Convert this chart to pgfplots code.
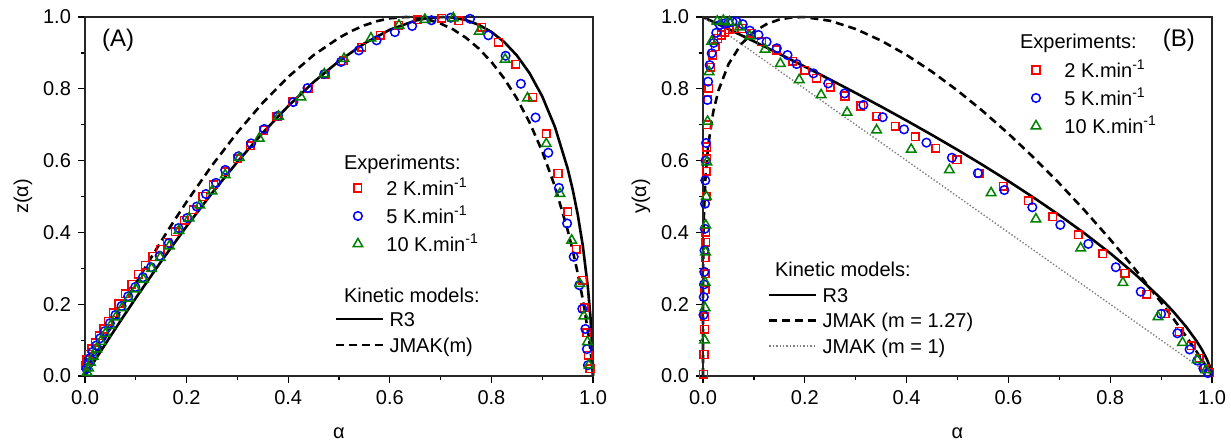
\documentclass[border=0pt]{standalone}
\usepackage{fontspec}
\setmainfont{Liberation Sans}
\usepackage{pgfplots}
\pgfplotsset{compat=1.18}
\definecolor{mgreen}{RGB}{0,128,0}
\definecolor{mgray}{RGB}{128,128,128}
\pgfplotsset{
  limg/.style={legend image code/.code={\pgfpathrectangle{\pgfpoint{0pt}{-3pt}}{\pgfpoint{23.5pt}{6pt}}\pgfusepath{discard}\draw[mark repeat=2,mark phase=2,##1] plot coordinates {(0pt,0pt) (11.75pt,0pt) (23.5pt,0pt)};}},
  base/.style={
    scale only axis, xmin=0, xmax=1, ymin=0, ymax=1, clip=false,
    xtick={0,0.2,0.4,0.6,0.8,1.0}, ytick={0,0.2,0.4,0.6,0.8,1.0},
    minor xtick={0.1,0.3,0.5,0.7,0.9}, minor ytick={0.1,0.3,0.5,0.7,0.9},
    tick align=outside, xtick pos=left, ytick pos=left,
    major tick length=3.5pt, minor tick length=2pt,
    tick style={line width=0.6pt, black},
    axis line style={line width=0.7pt, black!85},
    /pgf/number format/assume math mode=true,
    ticklabel style={/pgf/number format/fixed, /pgf/number format/precision=1, /pgf/number format/fixed zerofill},
    xlabel style={at={(axis description cs:0.5,-0.159)}, anchor=center},
    ylabel style={at={(axis description cs:-0.122,0.5)}, anchor=center},
    legend cell align=left, limg,
  },
  leg/.style 2 args={legend style={at={#1}, anchor=north west, draw=none, fill=none, inner sep=0pt, outer sep=0pt,
    row sep=#2, column sep=2.5pt, nodes={inner sep=0pt, text height=8.85pt, text depth=1.65pt}}},
  r3/.style={black, line width=1.3pt, no marks, limg},
  jm/.style={black, line width=1.3pt, dash pattern=on 4pt off 2.5pt, no marks, limg},
  jm1/.style={mgray, line width=0.7pt, dash pattern=on 0.7pt off 1pt, no marks, limg},
  sq/.style={only marks, red, mark=square, mark size=1.9pt, mark options={line width=0.75pt}, limg},
  ci/.style={only marks, blue, mark=o, mark size=2.15pt, mark options={line width=0.75pt}, limg},
  tr/.style={only marks, mgreen, mark=triangle, mark size=2.75pt, mark options={line width=0.75pt}, limg},
}
\begin{document}
\begin{tikzpicture}
\useasboundingbox (-42.5pt,-35pt) rectangle (573pt,188pt);
% ---------------- Panel A: model lines ----------------
\begin{axis}[base, width=254pt, height=179.5pt, hide axis, leg={(0.492,0.188)}{2.5pt}]
\addplot[r3] coordinates {(0,0) (0.01,0.0224) (0.025,0.0558) (0.05,0.1106) (0.075,0.1644) (0.1,0.2172) (0.15,0.3194) (0.2,0.4170) (0.25,0.5095) (0.3,0.5965) (0.35,0.6775) (0.4,0.7518) (0.45,0.8187) (0.5,0.8773) (0.55,0.9264) (0.6,0.9645) (0.65,0.9898) (0.675,0.9970) (0.7037,1.0) (0.725,0.9982) (0.75,0.9914) (0.775,0.9783) (0.8,0.9585) (0.825,0.9306) (0.85,0.8931) (0.875,0.8438) (0.9,0.7791) (0.925,0.6940) (0.95,0.5785) (0.96,0.5195) (0.97,0.4494) (0.98,0.3624) (0.99,0.2457) (0.995,0.1636) (0.999,0.0608) (0.9999,0.0139) (1,0)};
\addlegendentry{R3}
\addplot[jm] coordinates {(0,0) (0.01,0.0271) (0.025,0.0671) (0.05,0.1325) (0.075,0.1960) (0.1,0.2578) (0.125,0.3176) (0.15,0.3755) (0.175,0.4314) (0.2,0.4852) (0.25,0.5865) (0.3,0.6787) (0.35,0.7611) (0.4,0.8331) (0.45,0.8938) (0.5,0.9421) (0.525,0.9612) (0.55,0.9768) (0.575,0.9885) (0.6,0.9963) (0.632,1.0) (0.65,0.9988) (0.675,0.9929) (0.7,0.9818) (0.725,0.9651) (0.75,0.9421) (0.775,0.9123) (0.8,0.8750) (0.825,0.8291) (0.85,0.7735) (0.875,0.7066) (0.9,0.6259) (0.925,0.5281) (0.95,0.4072) (0.96,0.3500) (0.97,0.2860) (0.98,0.2127) (0.99,0.1252) (0.995,0.0720) (0.999,0.0188) (1,0)};
\addlegendentry{JMAK(m)}
\node[anchor=base west] at (rel axis cs:0.496,0.2061) {Kinetic models:};
\end{axis}
% ---------------- Panel A: experiments and frame ----------------
\begin{axis}[base, width=254pt, height=179.5pt, xlabel={α}, ylabel={z(α)}, leg={(0.491,0.553)}{3.5pt}]
\addplot[sq] coordinates {(0.002,0.030) (0.004,0.045) (0.008,0.060) (0.013,0.076) (0.020,0.093) (0.028,0.112) (0.037,0.131) (0.046,0.152) (0.056,0.176) (0.067,0.201) (0.079,0.229) (0.092,0.256) (0.105,0.283) (0.119,0.309) (0.133,0.333) (0.148,0.353) (0.162,0.372) (0.178,0.402) (0.195,0.434) (0.213,0.463) (0.232,0.500) (0.253,0.533) (0.276,0.569) (0.300,0.605) (0.325,0.641) (0.351,0.684) (0.378,0.722) (0.408,0.764) (0.440,0.801) (0.473,0.840) (0.508,0.878) (0.545,0.916) (0.581,0.949) (0.618,0.977) (0.655,0.992) (0.702,0.996) (0.736,0.990) (0.781,0.972) (0.814,0.930) (0.848,0.868) (0.881,0.777) (0.908,0.675) (0.931,0.564) (0.950,0.457) (0.967,0.353) (0.980,0.267) (0.983,0.190) (0.988,0.120) (0.991,0.058) (0.994,0.020)};
\addlegendentry{2 K.min\textsuperscript{-1}}
\addplot[ci] coordinates {(0.003,0.020) (0.006,0.035) (0.010,0.050) (0.015,0.067) (0.022,0.085) (0.030,0.105) (0.039,0.125) (0.049,0.147) (0.060,0.170) (0.072,0.195) (0.085,0.222) (0.099,0.248) (0.114,0.275) (0.130,0.303) (0.147,0.335) (0.165,0.370) (0.184,0.412) (0.201,0.440) (0.220,0.472) (0.238,0.507) (0.258,0.538) (0.276,0.574) (0.302,0.612) (0.327,0.648) (0.353,0.688) (0.380,0.725) (0.410,0.763) (0.438,0.802) (0.471,0.841) (0.504,0.875) (0.539,0.907) (0.574,0.935) (0.610,0.958) (0.644,0.975) (0.682,0.991) (0.720,0.998) (0.758,0.995) (0.794,0.949) (0.828,0.892) (0.858,0.814) (0.887,0.720) (0.912,0.622) (0.933,0.524) (0.949,0.425) (0.962,0.332) (0.973,0.253) (0.979,0.187) (0.985,0.131) (0.988,0.075) (0.990,0.030)};
\addlegendentry{5 K.min\textsuperscript{-1}}
\addplot[tr] coordinates {(0.004,0.010) (0.007,0.022) (0.011,0.037) (0.016,0.055) (0.023,0.075) (0.031,0.096) (0.040,0.118) (0.050,0.140) (0.061,0.164) (0.073,0.190) (0.086,0.216) (0.100,0.242) (0.115,0.269) (0.131,0.299) (0.148,0.330) (0.166,0.362) (0.185,0.405) (0.205,0.440) (0.226,0.476) (0.250,0.515) (0.276,0.560) (0.304,0.608) (0.343,0.662) (0.381,0.723) (0.425,0.777) (0.471,0.841) (0.510,0.884) (0.563,0.941) (0.618,0.977) (0.669,0.993) (0.725,0.997) (0.776,0.960) (0.827,0.882) (0.871,0.774) (0.908,0.647) (0.935,0.508) (0.958,0.378) (0.974,0.257) (0.982,0.167) (0.989,0.095) (0.992,0.030)};
\addlegendentry{10 K.min\textsuperscript{-1}}
\node[anchor=base west] at (rel axis cs:0.496,0.5766) {Experiments:};
\node[anchor=west, font=\fontsize{12}{14}\selectfont] at (rel axis cs:0.0197,0.936) {(A)};
\end{axis}
% ---------------- Panel B: model lines ----------------
\begin{axis}[base, at={(309pt,0pt)}, width=254.5pt, height=179.5pt, hide axis, leg={(0.1277,0.2549)}{2.25pt}]
\addplot[r3] coordinates {(0,1) (0.05,0.9664) (0.1,0.9322) (0.15,0.8973) (0.2,0.8618) (0.25,0.8255) (0.3,0.7884) (0.35,0.7504) (0.4,0.7114) (0.45,0.6713) (0.5,0.6300) (0.55,0.5873) (0.6,0.5429) (0.65,0.4966) (0.7,0.4481) (0.75,0.3969) (0.8,0.3420) (0.85,0.2823) (0.9,0.2154) (0.925,0.1778) (0.95,0.1357) (0.97,0.0966) (0.98,0.0737) (0.99,0.0464) (0.995,0.0292) (0.999,0.0100) (1,0)};
\addlegendentry{R3}
\addplot[jm] coordinates {(0,0) (0.00001,0.1487) (0.0001,0.2426) (0.0005,0.3415) (0.001,0.3954) (0.002,0.4579) (0.005,0.5548) (0.01,0.6400) (0.02,0.7349) (0.03,0.7938) (0.05,0.8685) (0.075,0.9244) (0.1,0.9589) (0.125,0.9803) (0.15,0.9930) (0.175,0.9990) (0.2,0.9998) (0.25,0.9893) (0.3,0.9665) (0.35,0.9342) (0.4,0.8942) (0.45,0.8475) (0.5,0.7951) (0.55,0.7375) (0.6,0.6750) (0.65,0.6079) (0.7,0.5365) (0.75,0.4607) (0.8,0.3804) (0.85,0.2954) (0.9,0.2052) (0.925,0.1579) (0.95,0.1085) (0.97,0.0673) (0.98,0.0459) (0.99,0.0238) (1,0)};
\addlegendentry{JMAK (m = 1.27)}
\addplot[jm1] coordinates {(0,1) (1,0)};
\addlegendentry{JMAK (m = 1)}
\node[anchor=base west] at (rel axis cs:0.1277,0.2758) {Kinetic models:};
\end{axis}
% ---------------- Panel B: experiments and frame ----------------
\begin{axis}[base, at={(309pt,0pt)}, width=254.5pt, height=179.5pt, xlabel={α}, ylabel={y(α)}, leg={(0.608,0.8816)}{3.5pt}]
\addplot[sq] coordinates {(0.001,0.005) (0.002,0.060) (0.003,0.130) (0.0035,0.165) (0.004,0.240) (0.0045,0.285) (0.0045,0.330) (0.005,0.373) (0.0055,0.401) (0.006,0.500) (0.0065,0.570) (0.007,0.605) (0.0075,0.638) (0.008,0.700) (0.009,0.769) (0.011,0.801) (0.015,0.860) (0.019,0.893) (0.024,0.917) (0.029,0.940) (0.036,0.950) (0.043,0.958) (0.051,0.965) (0.060,0.968) (0.076,0.968) (0.096,0.955) (0.115,0.931) (0.144,0.908) (0.176,0.877) (0.200,0.852) (0.223,0.829) (0.250,0.804) (0.279,0.780) (0.310,0.752) (0.341,0.724) (0.378,0.696) (0.417,0.667) (0.457,0.634) (0.499,0.602) (0.543,0.565) (0.590,0.529) (0.639,0.488) (0.687,0.444) (0.737,0.393) (0.785,0.340) (0.829,0.286) (0.872,0.228) (0.908,0.173) (0.936,0.124) (0.959,0.084) (0.975,0.049) (0.986,0.021) (0.995,0.009)};
\addlegendentry{2 K.min\textsuperscript{-1}}
\addplot[ci] coordinates {(0.001,0.170) (0.0015,0.220) (0.002,0.255) (0.0025,0.290) (0.003,0.350) (0.0035,0.410) (0.004,0.480) (0.0045,0.545) (0.005,0.600) (0.006,0.649) (0.0085,0.769) (0.010,0.820) (0.013,0.866) (0.017,0.899) (0.021,0.928) (0.026,0.956) (0.033,0.978) (0.042,0.982) (0.050,0.984) (0.058,0.987) (0.066,0.987) (0.078,0.980) (0.092,0.962) (0.109,0.950) (0.125,0.931) (0.145,0.913) (0.166,0.894) (0.184,0.869) (0.217,0.843) (0.246,0.815) (0.278,0.787) (0.315,0.755) (0.353,0.721) (0.395,0.687) (0.439,0.650) (0.489,0.608) (0.540,0.565) (0.592,0.518) (0.647,0.470) (0.702,0.421) (0.757,0.368) (0.811,0.303) (0.860,0.235) (0.900,0.173) (0.932,0.119) (0.956,0.074) (0.971,0.043) (0.983,0.021) (0.992,0.008)};
\addlegendentry{5 K.min\textsuperscript{-1}}
\addplot[tr] coordinates {(0.003,0.100) (0.004,0.190) (0.0045,0.260) (0.005,0.345) (0.0055,0.420) (0.0065,0.500) (0.0075,0.596) (0.009,0.709) (0.012,0.847) (0.017,0.932) (0.028,0.988) (0.040,0.990) (0.052,0.986) (0.072,0.972) (0.092,0.947) (0.122,0.910) (0.152,0.870) (0.189,0.825) (0.232,0.783) (0.283,0.734) (0.341,0.685) (0.409,0.631) (0.484,0.574) (0.566,0.510) (0.654,0.437) (0.742,0.356) (0.825,0.260) (0.894,0.165) (0.942,0.093) (0.971,0.045) (0.988,0.017)};
\addlegendentry{10 K.min\textsuperscript{-1}}
\node[anchor=base west] at (rel axis cs:0.609,0.9109) {Experiments:};
\node[anchor=east, font=\fontsize{12}{14}\selectfont] at (rel axis cs:0.980,0.936) {(B)};
\end{axis}
\end{tikzpicture}
\end{document}
